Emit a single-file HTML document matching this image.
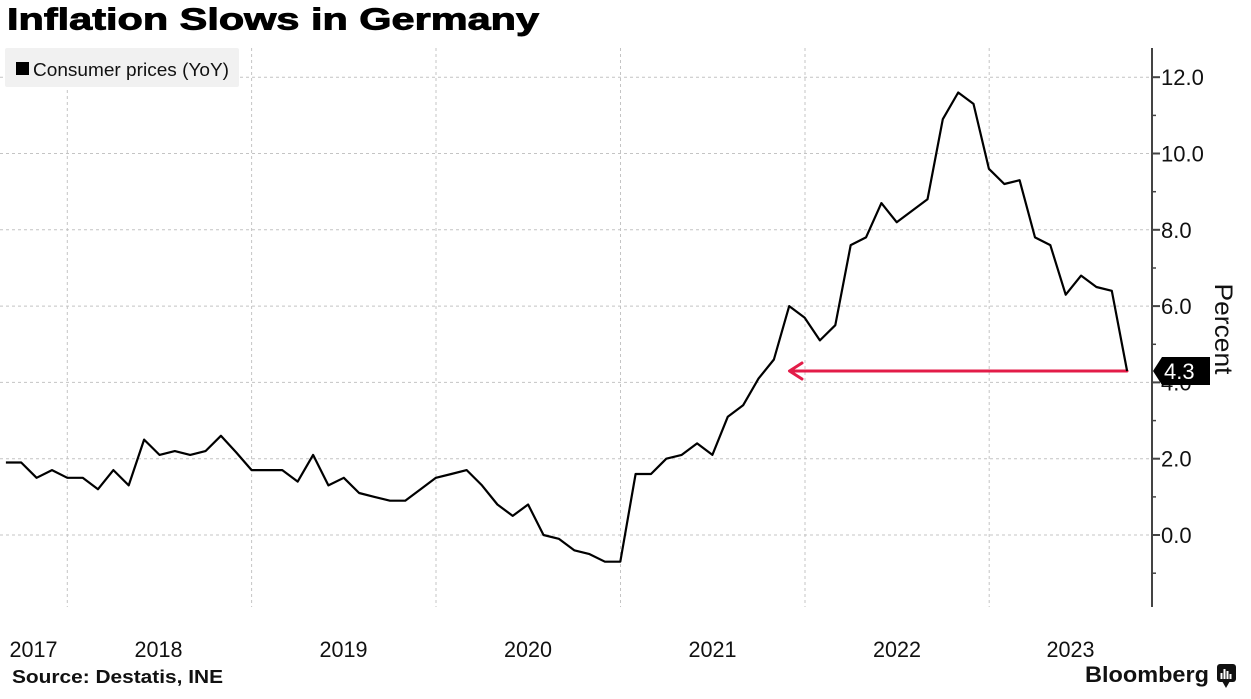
<!DOCTYPE html>
<html>
<head>
<meta charset="utf-8">
<style>
  html,body{margin:0;padding:0;background:#fff;}
  svg{display:block;}
  text{font-family:"Liberation Sans", sans-serif;}
</style>
</head>
<body>
<svg width="1251" height="699" viewBox="0 0 1251 699" xmlns="http://www.w3.org/2000/svg">
  <rect x="0" y="0" width="1251" height="699" fill="#fff"/>

  <!-- Title -->
  <text x="7" y="29.5" font-size="31" font-weight="bold" fill="#000" stroke="#000" stroke-width="0.9" textLength="532" lengthAdjust="spacingAndGlyphs">Inflation Slows in Germany</text>

  <!-- Horizontal gridlines -->
  <g stroke="#c4c4c4" stroke-width="1" stroke-dasharray="3,3">
    <line x1="0" y1="535" x2="1152" y2="535"/>
    <line x1="0" y1="458.7" x2="1152" y2="458.7"/>
    <line x1="0" y1="382.4" x2="1152" y2="382.4"/>
    <line x1="0" y1="306.1" x2="1152" y2="306.1"/>
    <line x1="0" y1="229.8" x2="1152" y2="229.8"/>
    <line x1="0" y1="153.5" x2="1152" y2="153.5"/>
    <line x1="0" y1="77.2" x2="1152" y2="77.2"/>
  </g>
  <!-- Vertical gridlines -->
  <g stroke="#c4c4c4" stroke-width="1" stroke-dasharray="3,3">
    <line x1="67.3" y1="48" x2="67.3" y2="607"/>
    <line x1="251.6" y1="48" x2="251.6" y2="607"/>
    <line x1="436" y1="48" x2="436" y2="607"/>
    <line x1="620.5" y1="48" x2="620.5" y2="607"/>
    <line x1="805" y1="48" x2="805" y2="607"/>
    <line x1="989.2" y1="48" x2="989.2" y2="607"/>
  </g>

  <!-- Legend -->
  <rect x="5" y="48" width="234" height="39" rx="2" fill="#f1f1f1"/>
  <rect x="16" y="62" width="13" height="13" fill="#000"/>
  <text x="33" y="76" font-size="18.5" fill="#111" textLength="196" lengthAdjust="spacingAndGlyphs">Consumer prices (YoY)</text>

  <!-- Red arrow -->
  <g stroke="#e31c48" stroke-width="3" fill="none" stroke-linecap="round" stroke-linejoin="round">
    <line x1="790" y1="371" x2="1127" y2="371"/>
    <polyline points="802,363 789.5,371 802,379"/>
  </g>

  <!-- Data line -->
  <polyline fill="none" stroke="#000" stroke-width="2.2" stroke-linejoin="round" points="
5.9,462.5 21.2,462.5 36.6,477.8 52.0,470.1 67.3,477.8 82.7,477.8 98.0,489.2 113.4,470.1 128.7,485.4 144.1,439.6
159.5,454.9 174.8,451.1 190.2,454.9 205.5,451.1 220.9,435.8 236.3,452.5 251.6,470.1 267.0,470.1 282.3,470.1 297.7,481.6
313.1,454.9 328.4,485.4 343.8,477.8 359.1,493.0 374.5,496.9 389.9,500.7 405.2,500.7 420.6,489.2 435.9,477.8 451.3,474.0
466.7,470.1 482.0,485.4 497.4,504.5 512.7,515.9 528.1,504.5 543.5,535.0 558.8,538.8 574.2,550.3 589.5,554.1 604.9,561.7
620.3,561.7 635.6,474.0 651.0,474.0 666.3,458.7 681.7,454.9 697.1,443.4 712.4,454.9 727.8,416.7 743.1,405.3 758.5,378.6
773.9,359.5 789.2,306.1 804.6,317.6 819.9,340.4 835.3,325.2 850.7,245.1 866.0,237.4 881.4,203.1 896.7,222.2 912.1,210.7
927.5,199.3 942.8,119.2 958.2,92.5 973.5,103.9 988.9,168.8 1004.3,184.0 1019.6,180.2 1035.0,237.4 1050.3,245.1 1065.7,294.7
1081.1,275.6 1096.4,287.0 1111.8,290.8 1127.1,371.0"/>

  <!-- Y axis -->
  <line x1="1152" y1="48" x2="1152" y2="607" stroke="#444" stroke-width="2"/>
  <g stroke="#444" stroke-width="2">
    <line x1="1152" y1="535" x2="1160" y2="535"/>
    <line x1="1152" y1="458.7" x2="1160" y2="458.7"/>
    <line x1="1152" y1="382.4" x2="1160" y2="382.4"/>
    <line x1="1152" y1="306.1" x2="1160" y2="306.1"/>
    <line x1="1152" y1="229.8" x2="1160" y2="229.8"/>
    <line x1="1152" y1="153.5" x2="1160" y2="153.5"/>
    <line x1="1152" y1="77.2" x2="1160" y2="77.2"/>
  </g>
  <g stroke="#444" stroke-width="1.5">
    <line x1="1152" y1="573.2" x2="1156" y2="573.2"/>
    <line x1="1152" y1="496.9" x2="1156" y2="496.9"/>
    <line x1="1152" y1="420.6" x2="1156" y2="420.6"/>
    <line x1="1152" y1="344.3" x2="1156" y2="344.3"/>
    <line x1="1152" y1="268" x2="1156" y2="268"/>
    <line x1="1152" y1="191.7" x2="1156" y2="191.7"/>
    <line x1="1152" y1="115.4" x2="1156" y2="115.4"/>
  </g>
  <g font-size="22" fill="#111">
    <text x="1161" y="543">0.0</text>
    <text x="1161" y="466.7">2.0</text>
    <text x="1161" y="390.4">4.0</text>
    <text x="1161" y="314.1">6.0</text>
    <text x="1161" y="237.8">8.0</text>
    <text x="1161" y="161.5">10.0</text>
    <text x="1161" y="85.2">12.0</text>
  </g>

  <!-- Last value label -->
  <path d="M1153,371 L1162,357 L1210,357 L1210,385 L1162,385 Z" fill="#000"/>
  <text x="1164" y="379" font-size="22" fill="#fff">4.3</text>

  <!-- Percent -->
  <text transform="translate(1215,329) rotate(90)" text-anchor="middle" font-size="25" fill="#111" textLength="91" lengthAdjust="spacingAndGlyphs">Percent</text>

  <!-- X labels -->
  <g font-size="22" fill="#111" text-anchor="middle">
    <text x="33.5" y="657" textLength="48" lengthAdjust="spacingAndGlyphs">2017</text>
    <text x="158.5" y="657" textLength="48" lengthAdjust="spacingAndGlyphs">2018</text>
    <text x="343.5" y="657" textLength="48" lengthAdjust="spacingAndGlyphs">2019</text>
    <text x="528" y="657" textLength="48" lengthAdjust="spacingAndGlyphs">2020</text>
    <text x="712.5" y="657" textLength="48" lengthAdjust="spacingAndGlyphs">2021</text>
    <text x="897" y="657" textLength="48" lengthAdjust="spacingAndGlyphs">2022</text>
    <text x="1070.5" y="657" textLength="48" lengthAdjust="spacingAndGlyphs">2023</text>
  </g>

  <!-- Source -->
  <text x="12" y="683" font-size="18" font-weight="bold" fill="#111" textLength="211" lengthAdjust="spacingAndGlyphs">Source: Destatis, INE</text>

  <!-- Bloomberg -->
  <text x="1085" y="682" font-size="22" font-weight="bold" fill="#111" textLength="124" lengthAdjust="spacingAndGlyphs">Bloomberg</text>
  <rect x="1217" y="664" width="19" height="18" rx="3" fill="#111"/>
  <path d="M1222,681 L1226,688 L1230,681 Z" fill="#111"/>
  <g fill="#fff">
    <rect x="1220.5" y="673" width="2" height="6"/>
    <rect x="1223.5" y="669" width="2" height="10"/>
    <rect x="1226.5" y="671" width="2" height="8"/>
    <rect x="1229.5" y="674" width="2" height="5"/>
  </g>
</svg>
</body>
</html>
